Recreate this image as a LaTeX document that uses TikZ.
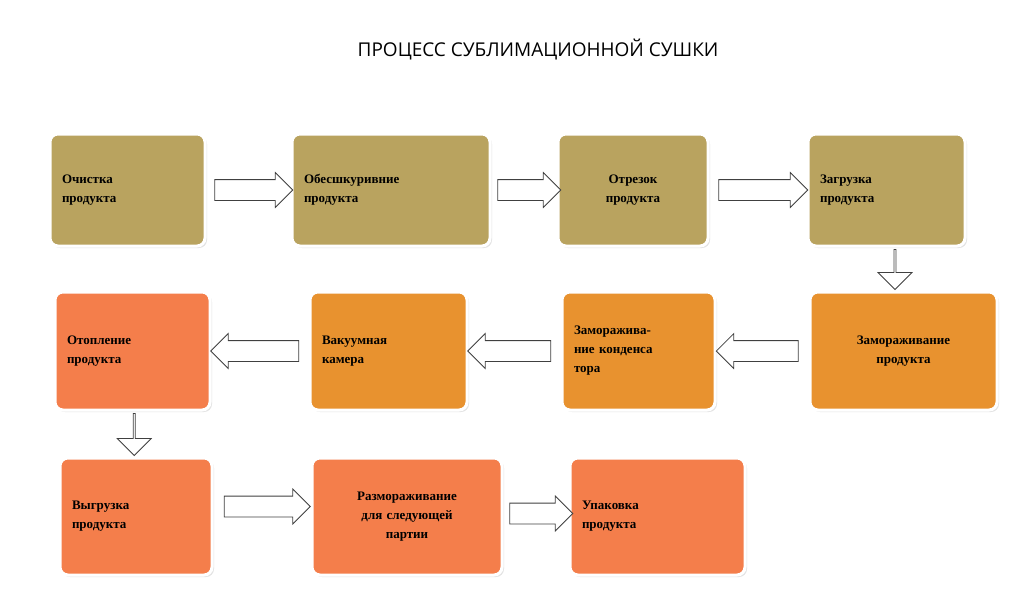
\documentclass[tikz,border=0pt]{standalone}
\usepackage{fontspec}
\setmainfont{Liberation Serif}
\newfontfamily\titlefont{Open Sans}
\usetikzlibrary{positioning,shapes.arrows,shadows}
\definecolor{olive}{HTML}{B9A35F}
\definecolor{amber}{HTML}{E8922F}
\definecolor{coral}{HTML}{F47E4B}

\begin{document}
\begin{tikzpicture}
  [
    x = 1pt,
    y = -1pt,
    font = \bfseries\fontsize{13}{19}\selectfont,
    stage/.style = {
      draw = white,
      line width = 3pt,
      rounded corners = 8pt,
      minimum height = 112pt,
      inner xsep = 12pt,
      drop shadow = {shadow xshift=2pt, shadow yshift=-2pt, fill=black!22},
    },
    blk/.style = {
      single arrow,
      draw = black!75,
      fill = white,
      line width = 0.8pt,
      inner sep = 0pt,
      inner ysep = 10pt,
      minimum width = 34pt,
      single arrow head extend = 7pt,
      single arrow tip angle = 90,
      anchor = center,
    },
  ]
  \useasboundingbox (0,0) rectangle (1024,610);

  \node (title) [font=\titlefont\fontsize{19}{22}\selectfont] at (538,50)
    {ПРОЦЕСС СУБЛИМАЦИОННОЙ СУШКИ};

  % first row
  \node (b1) [stage, fill=olive, minimum width=155pt, text width=131pt, align=left] at (127.5,190) {Очистка\\продукта};
  \node (b2) [stage, fill=olive, minimum width=198pt, text width=174pt, align=left] at (391,190) {Обесшкуривние\\продукта};
  \node (b3) [stage, fill=olive, minimum width=150pt, text width=126pt, align=center] at (633,190) {Отрезок\\продукта};
  \node (b4) [stage, fill=olive, minimum width=157pt, text width=133pt, align=left] at (886.5,190) {Загрузка\\продукта};

  % second row
  \node (b5) [stage, fill=amber, minimum width=187pt, minimum height=118pt, text width=163pt, align=center] at (903.5,351) {Замораживание\\продукта};
  \node (b6) [stage, fill=amber, minimum width=153pt, minimum height=118pt, text width=129pt, align=left] at (638.5,351) {Заморажива-\\ние конденса\\тора};
  \node (b7) [stage, fill=amber, minimum width=157pt, minimum height=118pt, text width=133pt, align=left] at (388.5,351) {Вакуумная\\камера};
  \node (b8) [stage, fill=coral, minimum width=155pt, minimum height=118pt, text width=131pt, align=left] at (132.5,351) {Отопление\\продукта};

  % third row
  \node (b9) [stage, fill=coral, minimum width=152pt, minimum height=117pt, text width=128pt, align=left] at (136,516.5) {Выгрузка\\продукта};
  \node (b10) [stage, fill=coral, minimum width=190pt, minimum height=117pt, text width=166pt, align=center] at (407,516.5) {Размораживание\\для следующей\\партии};
  \node (b11) [stage, fill=coral, minimum width=175pt, minimum height=117pt, text width=151pt, align=left] at (657.5,516.5) {Упаковка\\продукта};

  % block arrows
  \path (b1.east) -- (b2.west) node (a1) [blk, midway, minimum height=78pt] {};
  \path (b2.east) -- (b3.west) node (a2) [blk, midway, minimum height=63pt] {};
  \path (b3.east) -- (b4.west) node (a3) [blk, midway, minimum height=89pt] {};
  \path (b4.south) -- (b5.north) node (a4) [blk, midway, shape border rotate=270, minimum height=40pt] {};
  \path (b5.west) -- (b6.east) node (a5) [blk, midway, shape border rotate=180, minimum height=82pt] {};
  \path (b6.west) -- (b7.east) node (a6) [blk, midway, shape border rotate=180, minimum height=83pt] {};
  \path (b7.west) -- (b8.east) node (a7) [blk, midway, shape border rotate=180, minimum height=88pt] {};
  \path (b8.south) -- (b9.north) node (a8) [blk, midway, shape border rotate=270, minimum height=42pt] {};
  \path (b9.east) -- (b10.west) node (a9) [blk, midway, yshift=10pt, minimum height=86pt] {};
  \path (b10.east) -- (b11.west) node (a10) [blk, midway, yshift=3pt, minimum height=63pt] {};
\end{tikzpicture}
\end{document}
